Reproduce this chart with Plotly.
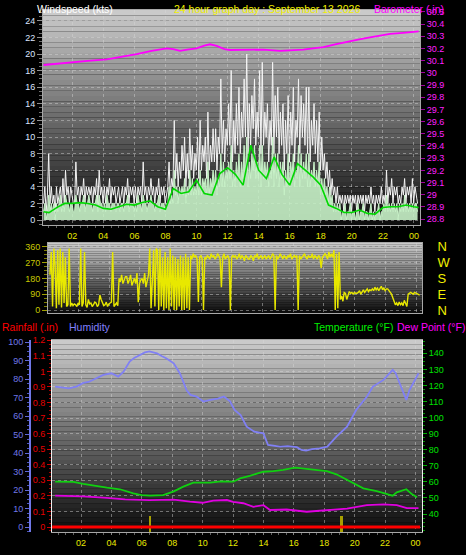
import plotly.graph_objects as go

W, H = 466, 555
FONT = "Liberation Sans, Arial, sans-serif"

# ---------------- data ----------------
# 5-minute samples for wind and direction (hours since midnight)
wind_times = [round(0.15 + i / 12, 4) for i in range(290)]

wind_gust = [
    2, 4, 1, 3, 8, 2, 4, 2, 3, 1, 4, 2,
    3, 4, 2, 5, 2, 6, 3, 4, 2, 4, 3, 2,
    2, 7, 3, 4, 2, 4, 3, 5, 2, 4, 3, 4,
    3, 4, 2, 4, 3, 5, 2, 6, 3, 4, 2, 4,
    2, 4, 3, 5, 2, 4, 3, 4, 2, 3, 4, 2,
    3, 4, 2, 4, 3, 5, 2, 4, 3, 4, 2, 4,
    2, 4, 3, 4, 2, 7, 3, 4, 2, 4, 3, 5,
    3, 4, 2, 4, 3, 5, 2, 4, 3, 4, 2, 3,
    4, 7, 3, 5, 4, 12, 5, 8, 4, 7, 5, 9,
    6, 10, 4, 8, 5, 11, 6, 9, 5, 8, 6, 10,
    5, 12, 6, 9, 7, 10, 5, 13, 6, 9, 7, 11,
    7, 11, 6, 10, 8, 17, 8, 12, 7, 11, 9, 14,
    9, 18, 7, 12, 8, 14, 9, 16, 8, 13, 10, 17,
    10, 20, 8, 14, 9, 15, 11, 17, 9, 13, 10, 18,
    8, 19, 9, 13, 10, 14, 7, 12, 9, 19, 8, 15,
    10, 16, 8, 13, 9, 14, 6, 12, 8, 15, 7, 13,
    9, 16, 7, 12, 10, 17, 8, 15, 10, 14, 9, 16,
    8, 16, 7, 12, 9, 14, 8, 12, 7, 13, 6, 10,
    6, 8, 5, 7, 4, 6, 3, 5, 3, 4, 2, 4,
    2, 3, 2, 3, 1, 3, 2, 3, 2, 3, 1, 3,
    2, 3, 1, 3, 2, 3, 2, 3, 1, 3, 2, 3,
    2, 4, 2, 3, 1, 3, 2, 3, 2, 4, 2, 3,
    2, 6, 2, 4, 3, 5, 2, 4, 3, 4, 2, 3,
    2, 4, 3, 5, 2, 4, 3, 4, 2, 5, 2, 4,
    3, 2,
]

wind_speed = [
    1, 2, 0, 1, 3, 1, 2, 1, 2, 0, 2, 1,
    2, 3, 1, 2, 1, 3, 2, 2, 1, 2, 2, 1,
    1, 3, 2, 2, 1, 2, 2, 3, 1, 2, 2, 3,
    2, 2, 1, 2, 2, 3, 1, 3, 2, 2, 1, 2,
    1, 3, 2, 2, 1, 2, 2, 2, 1, 2, 2, 1,
    2, 2, 1, 2, 2, 3, 1, 2, 2, 2, 1, 2,
    1, 3, 2, 2, 1, 3, 2, 2, 1, 2, 2, 3,
    2, 2, 1, 2, 2, 3, 1, 2, 2, 2, 1, 2,
    2, 4, 2, 3, 2, 6, 3, 4, 2, 4, 3, 4,
    3, 5, 2, 4, 3, 6, 3, 5, 3, 4, 3, 5,
    3, 6, 3, 5, 4, 5, 3, 7, 3, 5, 4, 6,
    4, 6, 3, 5, 4, 8, 4, 7, 4, 6, 5, 7,
    5, 9, 4, 6, 4, 7, 5, 8, 4, 7, 5, 9,
    5, 10, 4, 7, 5, 8, 6, 9, 5, 7, 5, 9,
    4, 9, 5, 7, 5, 7, 4, 6, 5, 10, 4, 8,
    5, 8, 4, 7, 5, 7, 3, 6, 4, 8, 4, 7,
    5, 8, 4, 6, 5, 9, 4, 8, 5, 7, 5, 8,
    4, 8, 4, 6, 5, 7, 4, 6, 4, 7, 3, 5,
    3, 5, 3, 4, 2, 4, 2, 3, 1, 2, 1, 2,
    1, 2, 0, 1, 1, 2, 0, 1, 1, 2, 0, 1,
    1, 0, 1, 2, 0, 1, 1, 2, 0, 1, 1, 0,
    1, 2, 0, 1, 0, 1, 1, 2, 0, 1, 1, 2,
    1, 3, 1, 2, 1, 2, 1, 2, 1, 2, 0, 2,
    1, 2, 1, 3, 1, 2, 1, 2, 1, 2, 1, 2,
    2, 1,
]

wind_dir = [
    200, 330, 20, 350, 250, 10, 340, 30, 350, 15, 330, 40,
    300, 20, 30, 350, 20, 40, 25, 35, 30, 20, 40, 30,
    350, 20, 40, 330, 30, 15, 60, 35, 40, 20, 30, 45,
    40, 20, 30, 85, 60, 35, 25, 30, 45, 20, 35, 40,
    45, 330, 20, 30, 40, 25, 180, 160, 200, 150, 170, 190,
    190, 150, 170, 200, 140, 160, 180, 150, 210, 45, 150, 170,
    180, 150, 210, 130, 170, 200, 350, 10, 160, 340, 20, 350,
    340, 0, 350, 20, 300, 0, 330, 10, 300, 0, 350, 20,
    310, 0, 300, 0, 290, 20, 310, 0, 300, 0, 320, 10,
    300, 0, 310, 290, 320, 300, 310, 290, 45, 300, 310, 290,
    0, 300, 290, 310, 300, 290, 320, 300, 310, 290, 300, 320,
    310, 290, 130, 300, 320, 290, 300, 310, 290, 0, 300, 310,
    300, 310, 290, 300, 320, 290, 310, 300, 280, 310, 300, 290,
    290, 310, 300, 280, 310, 300, 320, 290, 300, 310, 290, 300,
    310, 290, 300, 310, 290, 300, 320, 310, 0, 310, 290, 300,
    320, 300, 290, 310, 300, 290, 310, 300, 320, 290, 300, 310,
    300, 310, 0, 310, 290, 300, 310, 320, 300, 290, 310, 300,
    300, 320, 290, 310, 300, 290, 310, 300, 240, 300, 310, 320,
    310, 290, 330, 300, 320, 300, 340, 0, 320, 10, 330, 60,
    80, 50, 100, 95, 60, 90, 105, 95, 100, 90, 100, 95,
    95, 100, 110, 90, 105, 115, 100, 110, 120, 105, 115, 110,
    120, 110, 130, 115, 125, 110, 120, 135, 115, 125, 110, 120,
    120, 110, 100, 90, 70, 50, 30, 40, 25, 45, 30, 40,
    25, 55, 40, 20, 90, 95, 100, 95, 90, 100, 95, 90,
    90, 85,
]

avg_times = [0.15, 0.5, 1.0, 1.5, 2.0, 2.5, 3.0, 3.5, 4.0, 4.5, 5.0, 5.5, 6.0, 6.5,
             7.0, 7.5, 8.0, 8.5, 9.0, 9.5, 10.0, 10.5, 11.0, 11.5, 12.0, 12.5, 13.0,
             13.5, 14.0, 14.5, 15.0, 15.5, 16.0, 16.5, 17.0, 17.5, 18.0, 18.5, 19.0,
             19.5, 20.0, 20.5, 21.0, 21.5, 22.0, 22.5, 23.0, 23.5, 24.0, 24.3]
wind_avg = [1.0, 0.9, 1.5, 2.0, 2.0, 2.1, 2.0, 1.8, 1.4, 1.3, 1.6, 1.9, 1.8, 2.1,
            2.3, 1.6, 1.3, 3.8, 3.2, 3.4, 4.8, 3.2, 3.0, 5.6, 6.3, 5.5, 4.2,
            9.0, 6.0, 5.0, 7.6, 5.5, 4.2, 6.8, 6.0, 5.2, 4.2, 1.8, 1.4,
            0.9, 0.9, 1.2, 0.8, 0.7, 1.5, 1.6, 1.6, 1.8, 1.6, 1.5]

baro_times = [0.15, 1.0, 2.07, 3.0, 4.22, 5.2, 6.15, 7.1, 8.08, 8.5, 8.94, 9.4, 10.0,
              10.5, 10.87, 11.3, 11.8, 12.16, 13.0, 14.3, 15.38, 16.2, 16.88, 17.5,
              18.17, 19.0, 19.67, 20.4, 21.17, 21.8, 22.46, 23.3, 24.18, 24.3]
barometer = [30.064, 30.075, 30.09, 30.098, 30.11, 30.13, 30.154, 30.18, 30.20, 30.195,
             30.18, 30.19, 30.20, 30.222, 30.234, 30.22, 30.195, 30.187, 30.19, 30.19,
             30.18, 30.183, 30.19, 30.20, 30.21, 30.235, 30.255, 30.272, 30.29, 30.305,
             30.32, 30.328, 30.337, 30.34]

hum_times = [0.3, 0.8, 1.2, 1.7, 2.15, 2.5, 2.8, 3.1, 3.47, 4.0, 4.2, 4.45, 4.8, 5.2,
             5.5, 5.9, 6.2, 6.5, 7.0, 7.3, 7.6, 8.1, 8.5, 8.95, 9.2, 9.6, 10.05, 10.5,
             11.0, 11.4, 11.8, 12.1, 12.5, 12.9, 13.4, 14.0, 14.3, 15.1, 15.6, 16.2,
             16.5, 16.8, 17.2, 17.7, 18.2, 18.8, 19.5, 20.1, 20.8, 21.2, 21.9, 22.5,
             22.7, 23.0, 23.4, 23.6, 24.2]
humidity = [76, 75.5, 75, 76, 78, 78.5, 79.6, 80.5, 82.3, 83.2, 82.5, 81.4, 84, 89.5,
            91.5, 93, 94.5, 95, 94, 92.5, 91.3, 88.6, 83.2, 74, 71.5, 70.6, 67.9, 68.8,
            69.5, 70.6, 68, 63.3, 60.6, 54.3, 51.6, 50.7, 44.4, 43.5, 43.8, 43.2,
            41.7, 41.3, 42.2, 42.6, 43.5, 48.9, 54.3, 63.3, 70.5, 76, 79.6, 85,
            83.2, 77, 68.8, 74, 83.2]

temp_times = [0.3, 1.5, 2.15, 3.0, 3.7, 4.56, 5.44, 6.0, 6.54, 7.4, 8.07, 8.73, 9.39,
              10.5, 11.2, 12.02, 12.46, 13.1, 14.0, 14.65, 15.3, 16.08, 17.1, 18.17,
              18.8, 19.7, 20.57, 21.45, 22.2, 22.5, 22.77, 23.4, 23.76, 24.1]
temperature = [60.1, 60.0, 58.7, 57.2, 56.4, 55.4, 52.9, 51.8, 51.4, 51.7, 53.9, 57.0, 59.5,
               59.5, 60.3, 60.1, 62.2, 63.8, 66.3, 66.7, 67.4, 68.8, 68.0, 66.7,
               64.7, 60.1, 56.0, 54.3, 52.5, 51.4, 53.5, 55.4, 52.4, 50.4]

dew_times = [0.3, 2.15, 3.69, 4.9, 6.5, 8.1, 9.17, 10.0, 10.7, 11.6, 12.0, 12.68, 13.34,
             14.0, 14.43, 15.53, 16.85, 18.17, 19.5, 20.8, 21.9, 22.77, 23.43, 24.2]
dew_point = [51.4, 51.0, 50.1, 49.1, 48.7, 49.0, 47.7, 47.0, 48.3, 48.7, 47.5, 46.7, 44.5,
             45.5, 42.5, 42.8, 41.4, 42.5, 43.4, 45.5, 46.0, 45.5, 43.7, 43.7]

rain_times = [0.1, 24.3]
rainfall = [0, 0]
rate_times = [6.54, 19.15]
rain_rate = [0.1, 0.1]

hour_ticks = [2, 4, 6, 8, 10, 12, 14, 16, 18, 20, 22, 24]
hour_labels = ["02", "04", "06", "08", "10", "12", "14", "16", "18", "20", "22", "00"]
wind_ticks = list(range(0, 25, 2))
baro_ticks = [28.8, 28.9, 29.0, 29.1, 29.2, 29.3, 29.4, 29.5, 29.6, 29.7, 29.8, 29.9,
              30.0, 30.1, 30.2, 30.3, 30.4, 30.5]
baro_labels = ["28.8", "28.9", "29", "29.1", "29.2", "29.3", "29.4", "29.5", "29.6", "29.7",
               "29.8", "29.9", "30", "30.1", "30.2", "30.3", "30.4", "30.5"]
dir_ticks = [0, 90, 180, 270, 360]
compass = ["N", "E", "S", "W", "N"]
rain_ticks = [0, 0.1, 0.2, 0.3, 0.4, 0.5, 0.6, 0.7, 0.8, 0.9, 1.0, 1.1, 1.2]
rain_labels = ["0", "0.1", "0.2", "0.3", "0.4", "0.5", "0.6", "0.7", "0.8", "0.9", "1", "1.1", "1.2"]
hum_ticks = list(range(0, 101, 10))
temp_ticks = list(range(40, 141, 10))


# ---------------- helpers ----------------
def fx(x):
    return x / W


def fy(y):
    return 1 - y / H


GRID = dict(showgrid=True, gridcolor="rgba(215,215,215,0.45)", griddash="dot", gridwidth=1)

fig = go.Figure()

# top panel
fig.add_trace(go.Scatter(x=wind_times, y=wind_gust, mode="lines",
                         line=dict(color="#f4f4f4", width=1), xaxis="x", yaxis="y"))
fig.add_trace(go.Scatter(x=wind_times, y=wind_speed, mode="lines", fill="tozeroy",
                         fillcolor="rgba(200,242,200,0.9)",
                         line=dict(color="#c8f2c8", width=1), xaxis="x", yaxis="y"))
fig.add_trace(go.Scatter(x=avg_times, y=wind_avg, mode="lines",
                         line=dict(color="#00d800", width=1.6), xaxis="x", yaxis="y"))
fig.add_trace(go.Scatter(x=baro_times, y=barometer, mode="lines",
                         line=dict(color="#ff00ff", width=1.8), xaxis="x", yaxis="y2"))

# middle panel
fig.add_trace(go.Scatter(x=wind_times, y=wind_dir, mode="lines",
                         line=dict(color="#e8e800", width=1.4), xaxis="x2", yaxis="y3"))
fig.add_trace(go.Scatter(x=wind_times[:1], y=wind_dir[:1], mode="markers",
                         marker=dict(opacity=0), xaxis="x2", yaxis="y7", hoverinfo="skip"))

# bottom panel
fig.add_trace(go.Bar(x=rate_times, y=rain_rate, base=-0.03, width=0.12,
                     marker=dict(color="#a8a000", line=dict(width=0)), xaxis="x3", yaxis="y4"))
fig.add_trace(go.Scatter(x=rain_times, y=rainfall, mode="lines",
                         line=dict(color="#ff0000", width=3), xaxis="x3", yaxis="y4"))
fig.add_trace(go.Scatter(x=hum_times, y=humidity, mode="lines",
                         line=dict(color="#8080f4", width=1.8), xaxis="x3", yaxis="y5"))
fig.add_trace(go.Scatter(x=temp_times, y=temperature, mode="lines",
                         line=dict(color="#10d010", width=1.8), xaxis="x3", yaxis="y6"))
fig.add_trace(go.Scatter(x=dew_times, y=dew_point, mode="lines",
                         line=dict(color="#e000e0", width=1.8), xaxis="x3", yaxis="y6"))

# gradient backgrounds
shapes = []
panels = [(43, 420, 10, 225), (48, 422, 243, 313), (52, 422, 340, 532)]
N = 40
for (x0, x1, y0, y1) in panels:
    for k in range(N):
        ya = y0 + (y1 - y0) * k / N
        yb = y0 + (y1 - y0) * (k + 1) / N
        c = int(205 - (205 - 12) * (k + 0.5) / N)
        shapes.append(dict(type="rect", xref="paper", yref="paper",
                           x0=fx(x0), x1=fx(x1), y0=fy(yb), y1=fy(ya),
                           fillcolor=f"rgb({c},{c},{c})", line=dict(width=0), layer="below"))

AX_LINE = dict(showline=True, linecolor="#a8a8a8", linewidth=1, mirror=True, zeroline=False)
TICKF = dict(family=FONT, size=9)

fig.update_layout(
    width=W, height=H, margin=dict(l=0, r=0, t=0, b=0, autoexpand=False),
    paper_bgcolor="black", plot_bgcolor="rgba(0,0,0,0)",
    showlegend=False, shapes=shapes, bargap=0,
    font=dict(family=FONT),
    xaxis=dict(domain=[fx(43), fx(420)], range=[0.116, 24.39], anchor="y",
               tickvals=hour_ticks, ticktext=hour_labels,
               tickfont=dict(TICKF, color="#e8e800"), ticks="outside", ticklen=2,
               tickcolor="#808080", minor=dict(dtick=0.5, tick0=0, ticks="outside", ticklen=2, tickcolor="#606060"),
               **GRID, **AX_LINE),
    yaxis=dict(domain=[fy(225), fy(10)], range=[-0.6, 25.3], anchor="x",
               tickvals=wind_ticks, tickfont=dict(TICKF, color="#dce6ff"),
               ticks="outside", ticklen=5, tickcolor="#909090",
               minor=dict(dtick=0.5, tick0=0, ticks="outside", ticklen=3, tickcolor="#707070"),
               **GRID, **AX_LINE),
    yaxis2=dict(overlaying="y", side="right", range=[28.752, 30.515], anchor="x",
                tickvals=baro_ticks, ticktext=baro_labels,
                tickfont=dict(TICKF, color="#ff20ff"), ticks="outside", ticklen=4,
                tickcolor="#a000a0", showgrid=False, zeroline=False, showline=False),
    xaxis2=dict(domain=[fx(48), fx(422)], range=[0.02, 24.385], anchor="y3",
                tickvals=hour_ticks, showticklabels=False, ticks="",
                **GRID, **AX_LINE),
    yaxis3=dict(domain=[fy(313), fy(243)], range=[-17, 381], anchor="x2",
                tickvals=dir_ticks, tickfont=dict(TICKF, color="#c8c800"),
                ticks="outside", ticklen=5, tickcolor="#a0a000",
                minor=dict(dtick=22.5, tick0=0, ticks="outside", ticklen=3, tickcolor="#808000"),
                **GRID, **AX_LINE),
    yaxis7=dict(overlaying="y3", side="right", range=[-17, 381], anchor="x2",
                tickvals=dir_ticks, ticktext=compass,
                tickfont=dict(family=FONT, size=13, color="#f0f000"),
                ticks="outside", ticklen=12, tickcolor="rgba(0,0,0,0)",
                showgrid=False, zeroline=False, showline=False),
    xaxis3=dict(domain=[fx(52), fx(422)], range=[0.092, 24.43], anchor="y4",
                tickvals=hour_ticks, ticktext=hour_labels,
                tickfont=dict(TICKF, color="#e8e800"), ticks="outside", ticklen=2,
                tickcolor="#808080", minor=dict(dtick=0.5, tick0=0, ticks="outside", ticklen=2, tickcolor="#606060"),
                **GRID, **AX_LINE),
    yaxis4=dict(domain=[fy(532), fy(340)], range=[-0.032, 1.202], anchor="x3",
                tickvals=rain_ticks, ticktext=rain_labels,
                tickfont=dict(TICKF, color="#e80000"), ticks="outside", ticklen=4,
                tickcolor="#d00000",
                minor=dict(dtick=0.025, tick0=0, ticks="outside", ticklen=2, tickcolor="#a00000"),
                showline=True, linecolor="#f0f0f0", linewidth=1, mirror=True, zeroline=False,
                showgrid=True, gridcolor="rgba(215,215,215,0.45)", griddash="dot"),
    yaxis5=dict(overlaying="y4", side="left", anchor="free", position=fx(30),
                range=[-2.7, 101.2], tickvals=hum_ticks,
                tickfont=dict(TICKF, color="#7078e8"), ticks="outside", ticklen=4,
                tickcolor="#6068d8",
                minor=dict(dtick=2.5, tick0=0, ticks="outside", ticklen=2, tickcolor="#5058c0"),
                showline=True, linecolor="#7078e8", linewidth=2, showgrid=False, zeroline=False),
    yaxis6=dict(overlaying="y4", side="right", anchor="x3", range=[28.8, 148.3],
                tickvals=temp_ticks, tickfont=dict(TICKF, color="#00e000"),
                ticks="outside", ticklen=4, tickcolor="#00b000",
                minor=dict(dtick=2.5, tick0=0, ticks="outside", ticklen=2, tickcolor="#009000"),
                showgrid=False, zeroline=False, showline=False),
)

annos = [
    dict(text="Windspeed (kts)", x=fx(35), y=fy(1), color="#ffffff"),
    dict(text="24 hour graph day : September 13 2026", x=fx(172), y=fy(1), color="#f0f000"),
    dict(text="Barometer (.in)", x=fx(372), y=fy(1), color="#ff00ff"),
    dict(text="Rainfall (.in)", x=fx(0), y=fy(319), color="#ff0000"),
    dict(text="Humidity", x=fx(67), y=fy(319), color="#8080ff"),
    dict(text="Temperature (°F)", x=fx(312), y=fy(319), color="#00f000"),
    dict(text="Dew Point (°F)", x=fx(395), y=fy(319), color="#ff00ff"),
]
for a in annos:
    fig.add_annotation(text=a["text"], x=a["x"], y=a["y"], xref="paper", yref="paper",
                       xanchor="left", yanchor="top", showarrow=False,
                       font=dict(family=FONT, size=10.5, color=a["color"]))

fig.write_html("out.html", config={"displayModeBar": False},
               post_script="document.body.style.margin='0';")
